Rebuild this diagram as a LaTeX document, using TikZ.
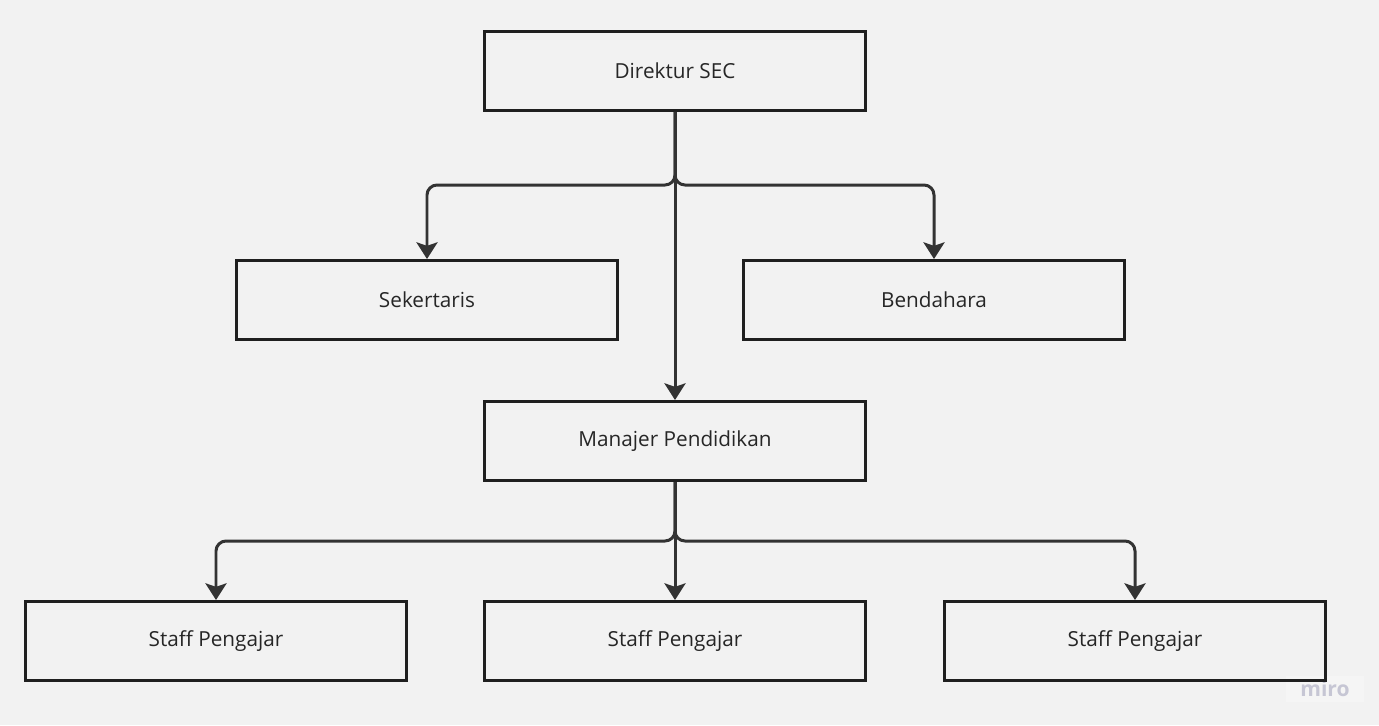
\documentclass[tikz,border=0pt]{standalone}
\usepackage{fontspec}
\setmainfont{Open Sans}
\usetikzlibrary{arrows.meta}
\definecolor{bg}{HTML}{F2F2F2}
\definecolor{ink}{HTML}{333333}
\definecolor{wmark}{HTML}{C6C6D4}
\tikzset{
  post/.style={draw=black!88, line width=1.7pt, minimum width=7.63cm, minimum height=1.58cm,
    font=\fontsize{11.8}{14}\selectfont, text=black!85},
  link/.style={draw=ink, line width=1.7pt, rounded corners=0.2cm,
    -{Stealth[length=9.5pt,width=12pt,inset=2pt]}}
}
\begin{document}
\begin{tikzpicture}[x=0.02cm,y=-0.02cm]
        \fill[bg] (0,0) rectangle (1379,725);
        \useasboundingbox (0,0) rectangle (1379,725);
        % watermark
        \node[fill=white!25!bg, text=wmark, font=\fontsize{12}{14}\selectfont\bfseries,
          inner xsep=8pt, inner ysep=3pt] (wm) at (1325,689) {miro};
        % boxes
        \node[post] (dir) at (675,71) {Direktur SEC};
        \node[post] (sek) at (427,300) {Sekertaris};
        \node[post] (ben) at (934,300) {Bendahara};
        \node[post] (man) at (675,441) {Manajer Pendidikan};
        \node[post] (st1) at (216,641) {Staff Pengajar};
        \node[post] (st2) at (675,641) {Staff Pengajar};
        \node[post] (st3) at (1135,641) {Staff Pengajar};
        \coordinate (j1) at (675,185);
        \coordinate (j2) at (675,541);
        % connectors
        \draw[link] (dir.south) -- (j1) -| (sek.north);
        \draw[link] (dir.south) -- (j1) -| (ben.north);
        \draw[link] (dir.south) -- (man.north);
        \draw[link] (man.south) -- (j2) -| (st1.north);
        \draw[link] (man.south) -- (j2) -| (st3.north);
        \draw[link] (man.south) -- (st2.north);
    \end{tikzpicture}
\end{document}
